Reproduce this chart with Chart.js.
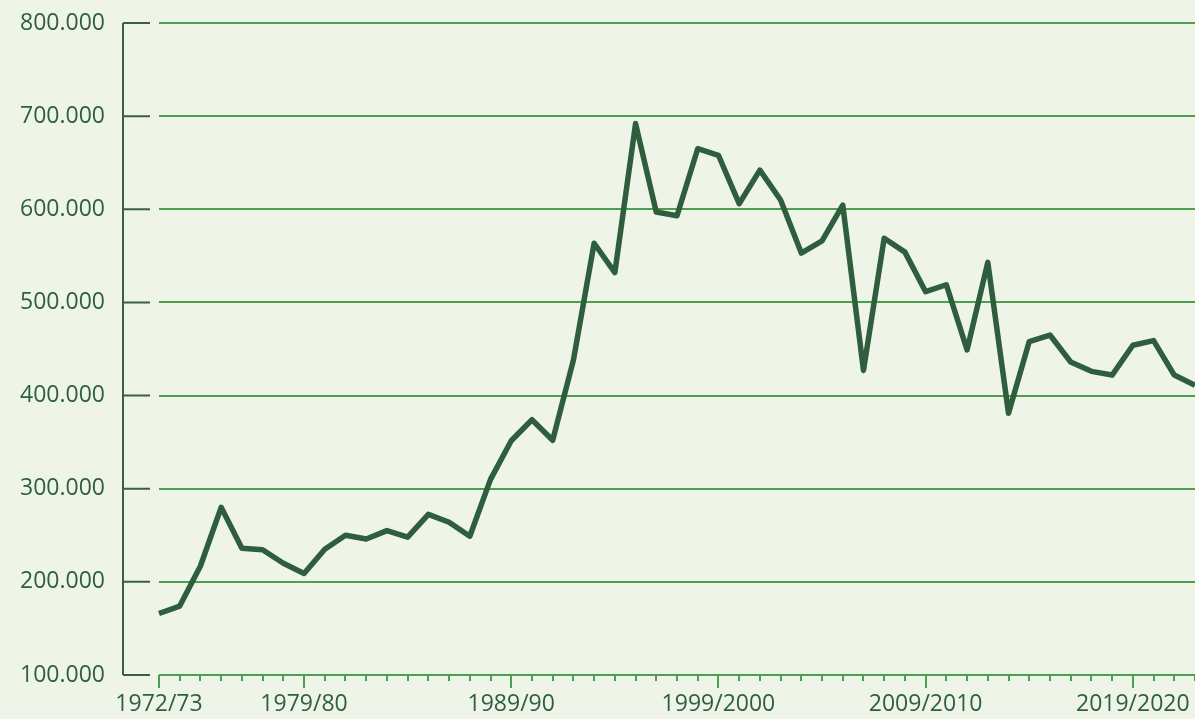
<!DOCTYPE html>
<html>
<head>
<meta charset="utf-8">
<script src="https://cdn.jsdelivr.net/npm/chart.js@4"></script>
<style>
	html, body { margin: 0; padding: 0; background: #eef5e8; }
	#wrap { width: 1195px; height: 719px; position: relative; }
</style>
</head>
<body>
<div id="wrap"><canvas id="chart"></canvas></div>
<script>
// seasons 1972/73 .. 2022/23
const seasons = [];
for (let y = 1972; y <= 2022; y++) {
	const next = y + 1;
	seasons.push(y < 1999 ? y + '/' + String(next).slice(2) : y + '/' + next);
}
const shownSeasons = ['1972/73', '1979/80', '1989/90', '1999/2000', '2009/2010', '2019/2020'];

const values = [
	166000, 174000, 217000, 280000, 236000, 234500, 220000, 209000, 235000, 250000,
	246000, 255000, 248000, 272500, 264000, 249000, 310000, 351500, 374000, 352000,
	438000, 563500, 532000, 692000, 597000, 593000, 665000, 658000, 606000, 642000,
	610000, 553000, 566000, 604500, 427000, 569000, 554000, 511500, 519000, 449000,
	543000, 381000, 458000, 465000, 436000, 426000, 422000, 454000, 459000, 422000,
	411000
];

const yTicks = [100000, 200000, 300000, 400000, 500000, 600000, 700000, 800000];

const textColor = '#2d5f3f';
const gridColor = '#4c9f50';
const axisDark = '#3a5f48';
const lineColor = '#2e5e3e';

function fmt(v) {
	return String(v).replace(/\B(?=(\d{3})+(?!\d))/g, '.');
}

// draws the detached y axis and the x axis tick marks
const axisMarks = {
	id: 'axisMarks',
	afterDraw(chart) {
		const {ctx, chartArea, scales} = chart;
		const x = scales.x, y = scales.y;
		ctx.save();
		ctx.strokeStyle = axisDark;
		ctx.lineWidth = 2;
		const ax = chartArea.left - 36;
		ctx.beginPath();
		ctx.moveTo(ax, y.getPixelForValue(800000));
		ctx.lineTo(ax, y.getPixelForValue(100000));
		yTicks.forEach(function(v) {
			const py = y.getPixelForValue(v);
			ctx.moveTo(ax, py);
			ctx.lineTo(ax + 27, py);
		});
		ctx.stroke();

		ctx.strokeStyle = gridColor;
		ctx.lineWidth = 2;
		ctx.beginPath();
		const by = chartArea.bottom;
		ctx.moveTo(chartArea.left, by);
		ctx.lineTo(chartArea.right, by);
		seasons.forEach(function(s, i) {
			const px = Math.round(x.getPixelForValue(i));
			const len = shownSeasons.includes(s) ? 13 : 6;
			ctx.moveTo(px, by);
			ctx.lineTo(px, by + len);
		});
		ctx.stroke();
		ctx.restore();
	}
};

new Chart(document.getElementById('chart'), {
	type: 'line',
	data: {
		labels: seasons,
		datasets: [{
			data: values,
			borderColor: lineColor,
			borderWidth: 5.5,
			borderJoinStyle: 'round',
			pointRadius: 0,
			tension: 0,
			fill: false
		}]
	},
	options: {
		responsive: true,
		maintainAspectRatio: false,
		animation: false,
		layout: {padding: {top: 23, right: 0, left: 0, bottom: 0}},
		plugins: {legend: {display: false}, tooltip: {enabled: false}},
		scales: {
			x: {
				offset: false,
				grid: {display: true, drawOnChartArea: false, drawTicks: true, tickLength: 16, tickColor: 'transparent'},
				border: {display: false},
				afterFit: function(scale) { scale.height = 44; },
				ticks: {
					autoSkip: false,
					maxRotation: 0,
					padding: 0,
					color: textColor,
					font: {family: 'Open Sans', size: 23, weight: 500},
					callback: function(v, i) {
						return shownSeasons.includes(seasons[i]) ? seasons[i] : '';
					}
				}
			},
			y: {
				min: 100000,
				max: 800000,
				afterFit: function(scale) { scale.width = 159; },
				grid: {color: gridColor, lineWidth: 2, drawTicks: true, tickLength: 46, tickColor: 'transparent'},
				border: {display: false},
				ticks: {
					stepSize: 100000,
					padding: 8,
					color: textColor,
					font: {family: 'Open Sans', size: 23, weight: 500},
					callback: function(v) { return fmt(v); }
				}
			}
		}
	},
	plugins: [axisMarks]
});
</script>
</body>
</html>
